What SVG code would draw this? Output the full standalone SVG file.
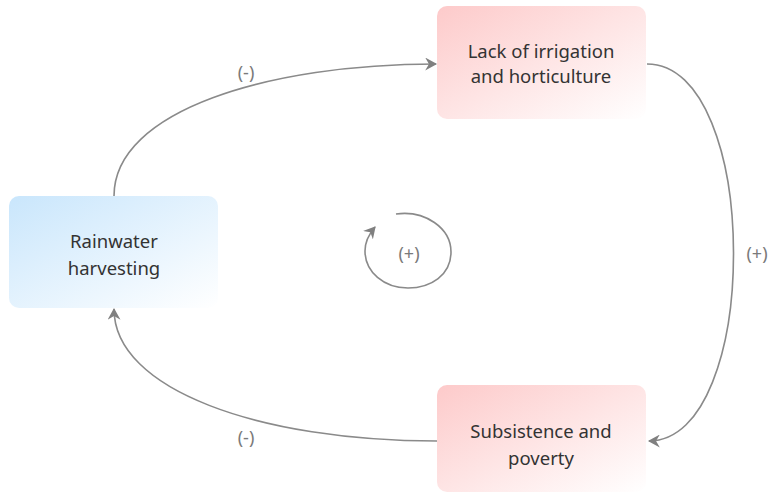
<svg xmlns="http://www.w3.org/2000/svg" width="770" height="494" viewBox="0 0 770 494">
  <defs>
    <linearGradient id="blueFill" x1="0" y1="0" x2="1" y2="1">
      <stop offset="0" stop-color="#c9e6fc"/>
      <stop offset="1" stop-color="#ffffff"/>
    </linearGradient>
    <linearGradient id="redFill" x1="0" y1="0" x2="1" y2="1">
      <stop offset="0" stop-color="#fdcaca"/>
      <stop offset="1" stop-color="#ffffff"/>
    </linearGradient>
    <marker id="arrow" viewBox="0 0 12 12" refX="10" refY="6" markerWidth="13" markerHeight="13" markerUnits="userSpaceOnUse" orient="auto">
      <path d="M0,0 L11,6 L0,12 L3.5,6 Z" fill="#808080"/>
    </marker>
    <style>
      .node-text { font-family: "Noto Sans", "Open Sans", sans-serif; font-size: 18.5px; fill: #333333; text-anchor: middle; }
      .label { font-family: "Noto Sans", "Open Sans", sans-serif; font-size: 18px; fill: #7a7a7a; text-anchor: middle; }
      .link { fill: none; stroke: #8a8a8a; stroke-width: 1.6; marker-end: url(#arrow); }
    </style>
  </defs>

  <rect width="770" height="494" fill="#ffffff"/>

  <g id="connectors">
    <path class="link" d="M114,196 C114,110 270,64 436,64"/>
    <path class="link" d="M647,64 C762,64 762,441 649,441"/>
    <path class="link" d="M437,441 C260,441 114,390 114,309"/>
    <path class="link" d="M396,214 C425,210 451,228 451,252 C451,275 431,288 408,288 C384,288 365,272 365,251 C365,241 369,234 375,227"/>
    <text class="label" x="246" y="79">(-)</text>
    <text class="label" x="757" y="260">(+)</text>
    <text class="label" x="246" y="444">(-)</text>
    <text class="label" x="409" y="260">(+)</text>
  </g>

  <g id="rainwater">
    <rect x="9" y="196" width="209" height="112" rx="10" fill="url(#blueFill)"/>
    <text class="node-text" x="114" y="248">Rainwater</text>
    <text class="node-text" x="114" y="275">harvesting</text>
  </g>

  <g id="irrigation">
    <rect x="437" y="6" width="209" height="113" rx="10" fill="url(#redFill)"/>
    <text class="node-text" x="541" y="58">Lack of irrigation</text>
    <text class="node-text" x="541" y="83">and horticulture</text>
  </g>

  <g id="poverty">
    <rect x="437" y="385" width="209" height="107" rx="10" fill="url(#redFill)"/>
    <text class="node-text" x="541" y="438">Subsistence and</text>
    <text class="node-text" x="541" y="465">poverty</text>
  </g>
</svg>
